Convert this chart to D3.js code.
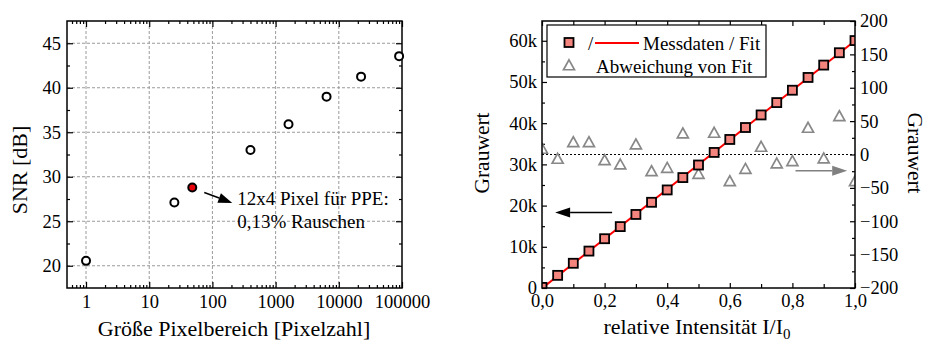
<!DOCTYPE html>
<html>
<head>
<meta charset="utf-8">
<script src="https://cdn.jsdelivr.net/npm/d3@7"></script>
<style>
  html, body { margin: 0; padding: 0; background: #fff; }
  svg { display: block; font-family: "Liberation Serif", "Times New Roman", serif; }
</style>
</head>
<body>
<svg id="chart" width="929" height="341"></svg>
<script>
// ---- Panel 1: SNR as a function of pixel region size ----
const pixelCounts = [1, 25, 48, 400, 1600, 6400, 22500, 90000];
const snrValues = [20.55, 27.1, 28.8, 33.0, 35.9, 39.0, 41.25, 43.55];
const highlightIndex = 2; // 12x4 pixel region used for PPE
const snrTicks = [20, 25, 30, 35, 40, 45];
const snrMinorTicks = [22.5, 27.5, 32.5, 37.5, 42.5];
const pixelTicks = [1, 10, 100, 1000, 10000, 100000];
const annotationLines = ["12x4 Pixel für PPE:", "0,13% Rauschen"];

// ---- Panel 2: gray value vs. relative intensity ----
const intensity = [0, 0.05, 0.1, 0.15, 0.2, 0.25, 0.3, 0.35, 0.4, 0.45, 0.5,
                   0.55, 0.6, 0.65, 0.7, 0.75, 0.8, 0.85, 0.9, 0.95, 1.0];
const grayValues = [150, 3070, 6000, 8960, 11960, 14900, 17850, 20800, 23800, 26800, 29850,
                    32900, 36050, 38950, 42000, 45000, 48000, 51100, 54100, 57100, 60050];
const deviation = [7.5, -7.5, 17.4, 17.4, -9.6, -16, 14, -26, -21, 30.5, -30,
                   31.5, -41, -22.5, 10.5, -14.5, -11, 39, -7, 56.4, -41];
const grayTicks = [0, 10000, 20000, 30000, 40000, 50000, 60000];
const grayTickLabels = ["0", "10k", "20k", "30k", "40k", "50k", "60k"];
const grayMinorTicks = [5000, 15000, 25000, 35000, 45000, 55000];
const deviationTicks = [-200, -150, -100, -50, 0, 50, 100, 150, 200];
const deviationMinorTicks = [-175, -125, -75, -25, 25, 75, 125, 175];
const intensityTicks = [0, 0.2, 0.4, 0.6, 0.8, 1.0];
const intensityTickLabels = ["0,0", "0,2", "0,4", "0,6", "0,8", "1,0"];
const intensityMinorTicks = [0.1, 0.3, 0.5, 0.7, 0.9];
const legendLabels = ["Messdaten / Fit", "Abweichung von Fit"];

const svg = d3.select("#chart");
svg.append("rect").attr("width", 929).attr("height", 341).attr("fill", "#fff");

const TICK_FONT = 18.5;
const TITLE_FONT = 22;

function styleAxis(g, labels) {
  g.select(".domain").remove();
  g.selectAll(".tick line").attr("stroke", "#000").attr("stroke-width", 1.2);
  g.attr("font-family", null).attr("font-size", TICK_FONT);
  g.selectAll(".tick text").attr("fill", "#000");
  if (!labels) g.selectAll(".tick text").remove();
  return g;
}

// ================= Panel 1 =================
const p1 = { left: 67, right: 402, top: 21, bottom: 288 };
const x1 = d3.scaleLog().domain([0.5, 100000]).range([p1.left, p1.right]);
const y1 = d3.scaleLinear().domain([17.5, 47.5]).range([p1.bottom, p1.top]);

const g1 = svg.append("g");

// dashed grid
g1.append("g").selectAll("line").data(snrTicks).join("line")
  .attr("x1", p1.left).attr("x2", p1.right)
  .attr("y1", d => y1(d)).attr("y2", d => y1(d))
  .attr("stroke", "#9a9a9a").attr("stroke-width", 1).attr("stroke-dasharray", "3,2");
g1.append("g").selectAll("line").data(pixelTicks.filter(d => d < 100000)).join("line")
  .attr("x1", d => x1(d)).attr("x2", d => x1(d))
  .attr("y1", p1.top).attr("y2", p1.bottom)
  .attr("stroke", "#9a9a9a").attr("stroke-width", 1).attr("stroke-dasharray", "3,2");

// log minor ticks
const logMinor = x1.ticks().filter(d => !pixelTicks.includes(d) && d > 0.5 && d < 100000);

// bottom axis
g1.append("g").attr("transform", `translate(0,${p1.bottom})`)
  .call(d3.axisBottom(x1).tickValues(pixelTicks).tickFormat(d3.format("d")).tickSize(-6).tickPadding(7))
  .call(g => styleAxis(g, true));
g1.append("g").attr("transform", `translate(0,${p1.bottom})`)
  .call(d3.axisBottom(x1).tickValues(logMinor).tickFormat("").tickSize(-3))
  .call(g => styleAxis(g, false));
// top mirror
g1.append("g").attr("transform", `translate(0,${p1.top})`)
  .call(d3.axisTop(x1).tickValues(pixelTicks).tickSize(-6))
  .call(g => styleAxis(g, false));
g1.append("g").attr("transform", `translate(0,${p1.top})`)
  .call(d3.axisTop(x1).tickValues(logMinor).tickSize(-3))
  .call(g => styleAxis(g, false));
// left axis
g1.append("g").attr("transform", `translate(${p1.left},0)`)
  .call(d3.axisLeft(y1).tickValues(snrTicks).tickSize(-6).tickPadding(6))
  .call(g => styleAxis(g, true));
g1.append("g").attr("transform", `translate(${p1.left},0)`)
  .call(d3.axisLeft(y1).tickValues(snrMinorTicks).tickSize(-3))
  .call(g => styleAxis(g, false));
// right mirror
g1.append("g").attr("transform", `translate(${p1.right},0)`)
  .call(d3.axisRight(y1).tickValues(snrTicks).tickSize(-6))
  .call(g => styleAxis(g, false));
g1.append("g").attr("transform", `translate(${p1.right},0)`)
  .call(d3.axisRight(y1).tickValues(snrMinorTicks).tickSize(-3))
  .call(g => styleAxis(g, false));

// frame
g1.append("rect")
  .attr("x", p1.left).attr("y", p1.top)
  .attr("width", p1.right - p1.left).attr("height", p1.bottom - p1.top)
  .attr("fill", "none").attr("stroke", "#000").attr("stroke-width", 1.5);

// data points
g1.append("g").selectAll("circle").data(pixelCounts).join("circle")
  .attr("cx", d => x1(d))
  .attr("cy", (d, i) => y1(snrValues[i]))
  .attr("r", 4)
  .attr("fill", (d, i) => i === highlightIndex ? "#e8000b" : "#fff")
  .attr("stroke", "#000").attr("stroke-width", 2);

// annotation arrow + text, anchored at the highlighted point
const hx = x1(pixelCounts[highlightIndex]);
const hy = y1(snrValues[highlightIndex]);
function arrow(g, xa, ya, xb, yb, color, headLen, headHalf, width) {
  const ang = Math.atan2(yb - ya, xb - xa);
  const bx = xb - headLen * Math.cos(ang), by = yb - headLen * Math.sin(ang);
  g.append("line").attr("x1", xa).attr("y1", ya).attr("x2", bx).attr("y2", by)
    .attr("stroke", color).attr("stroke-width", width);
  const nx = -Math.sin(ang), ny = Math.cos(ang);
  g.append("path")
    .attr("d", `M${xb},${yb}L${bx + nx * headHalf},${by + ny * headHalf}L${bx - nx * headHalf},${by - ny * headHalf}Z`)
    .attr("fill", color);
}
arrow(g1, hx + 12, hy + 5, hx + 40, hy + 15.5, "#000", 14, 5, 1.5);
g1.append("g").selectAll("text").data(annotationLines).join("text")
  .attr("x", hx + 45)
  .attr("y", (d, i) => hy + 17.5 + i * 23.5)
  .attr("font-size", 19)
  .text(d => d);

// axis titles
g1.append("text")
  .attr("transform", `translate(27,170) rotate(-90)`)
  .attr("text-anchor", "middle").attr("font-size", TITLE_FONT)
  .text("SNR [dB]");
g1.append("text")
  .attr("x", 234).attr("y", 336)
  .attr("text-anchor", "middle").attr("font-size", TITLE_FONT)
  .text("Größe Pixelbereich [Pixelzahl]");

// ================= Panel 2 =================
const p2 = { left: 542, right: 855, top: 21, bottom: 288 };
const x2 = d3.scaleLinear().domain([0, 1]).range([p2.left, p2.right]);
const y2 = d3.scaleLinear().domain([0, 64800]).range([p2.bottom, p2.top]);
const y2r = d3.scaleLinear().domain([-200, 200]).range([p2.bottom, p2.top]);

const g2 = svg.append("g");
const clip = svg.append("defs").append("clipPath").attr("id", "plot2clip");
clip.append("rect")
  .attr("x", p2.left).attr("y", p2.top)
  .attr("width", p2.right - p2.left).attr("height", p2.bottom - p2.top);

// bottom axis
g2.append("g").attr("transform", `translate(0,${p2.bottom})`)
  .call(d3.axisBottom(x2).tickValues(intensityTicks)
    .tickFormat((d, i) => intensityTickLabels[i]).tickSize(-5).tickPadding(6))
  .call(g => styleAxis(g, true));
g2.append("g").attr("transform", `translate(0,${p2.bottom})`)
  .call(d3.axisBottom(x2).tickValues(intensityMinorTicks).tickSize(-4))
  .call(g => styleAxis(g, false));
// top mirror
g2.append("g").attr("transform", `translate(0,${p2.top})`)
  .call(d3.axisTop(x2).tickValues(intensityTicks).tickSize(-5))
  .call(g => styleAxis(g, false));
g2.append("g").attr("transform", `translate(0,${p2.top})`)
  .call(d3.axisTop(x2).tickValues(intensityMinorTicks).tickSize(-4))
  .call(g => styleAxis(g, false));
// left axis (gray value)
g2.append("g").attr("transform", `translate(${p2.left},0)`)
  .call(d3.axisLeft(y2).tickValues(grayTicks)
    .tickFormat((d, i) => grayTickLabels[i]).tickSize(-5).tickPadding(5))
  .call(g => styleAxis(g, true));
g2.append("g").attr("transform", `translate(${p2.left},0)`)
  .call(d3.axisLeft(y2).tickValues(grayMinorTicks).tickSize(-3))
  .call(g => styleAxis(g, false));
// right axis (deviation)
g2.append("g").attr("transform", `translate(${p2.right},0)`)
  .call(d3.axisRight(y2r).tickValues(deviationTicks).tickSize(-5).tickPadding(5))
  .call(g => styleAxis(g, true));
g2.append("g").attr("transform", `translate(${p2.right},0)`)
  .call(d3.axisRight(y2r).tickValues(deviationMinorTicks).tickSize(-3))
  .call(g => styleAxis(g, false));

// zero line of the deviation axis
g2.append("line")
  .attr("x1", p2.left).attr("x2", p2.right)
  .attr("y1", y2r(0)).attr("y2", y2r(0))
  .attr("stroke", "#000").attr("stroke-width", 1).attr("stroke-dasharray", "2,2");

const plot2 = g2.append("g").attr("clip-path", "url(#plot2clip)");

// linear least-squares fit of the measured gray values
const mx = d3.mean(intensity), my = d3.mean(grayValues);
const slope = d3.sum(intensity, (d, i) => (d - mx) * (grayValues[i] - my)) /
              d3.sum(intensity, d => (d - mx) * (d - mx));
const intercept = my - slope * mx;

// deviation triangles
function triPath(cx, cy, s) {
  const h = s * 0.9;
  return `M${cx},${cy - h * 0.62}L${cx + s / 2},${cy + h * 0.38}L${cx - s / 2},${cy + h * 0.38}Z`;
}
plot2.append("g").selectAll("path").data(intensity).join("path")
  .attr("d", (d, i) => triPath(x2(d), y2r(deviation[i]), 11))
  .attr("fill", "none").attr("stroke", "#888").attr("stroke-width", 1.7)
  .attr("stroke-linejoin", "miter");

// fit line
plot2.append("line")
  .attr("x1", x2(0)).attr("y1", y2(intercept))
  .attr("x2", x2(1)).attr("y2", y2(intercept + slope))
  .attr("stroke", "#ff0000").attr("stroke-width", 2);

// measured squares
plot2.append("g").selectAll("rect").data(intensity).join("rect")
  .attr("x", d => x2(d) - 4.5)
  .attr("y", (d, i) => y2(grayValues[i]) - 4.5)
  .attr("width", 9).attr("height", 9)
  .attr("fill", "#f4847e").attr("stroke", "#000").attr("stroke-width", 1.8);

// direction arrows for the two axes
arrow(g2, x2(0.224), y2(18300), x2(0.042), y2(18300), "#000", 15, 5, 1.5);
arrow(g2, x2(0.81), y2r(-24.5), x2(0.975), y2r(-24.5), "#808080", 15, 5, 1.5);

// frame
g2.append("rect")
  .attr("x", p2.left).attr("y", p2.top)
  .attr("width", p2.right - p2.left).attr("height", p2.bottom - p2.top)
  .attr("fill", "none").attr("stroke", "#000").attr("stroke-width", 1.5);

// legend
const lg = g2.append("g");
lg.append("rect").attr("x", 547).attr("y", 25).attr("width", 219).attr("height", 52)
  .attr("fill", "#fff").attr("stroke", "#000").attr("stroke-width", 1.2);
lg.append("rect").attr("x", 569 - 4.5).attr("y", 42.5 - 4.5).attr("width", 9).attr("height", 9)
  .attr("fill", "#f4847e").attr("stroke", "#000").attr("stroke-width", 1.8);
lg.append("text").attr("x", 588).attr("y", 49.5).attr("font-size", 19).text("/");
lg.append("line").attr("x1", 595).attr("x2", 639).attr("y1", 43).attr("y2", 43)
  .attr("stroke", "#ff0000").attr("stroke-width", 2);
lg.append("text").attr("x", 643).attr("y", 49.5).attr("font-size", 19).text(legendLabels[0]);
lg.append("path").attr("d", triPath(569, 66, 11))
  .attr("fill", "none").attr("stroke", "#888").attr("stroke-width", 1.7);
lg.append("text").attr("x", 596).attr("y", 72.5).attr("font-size", 19).text(legendLabels[1]);

// axis titles
g2.append("text")
  .attr("transform", `translate(489,153) rotate(-90)`)
  .attr("text-anchor", "middle").attr("font-size", 21.5)
  .text("Grauwert");
g2.append("text")
  .attr("transform", `translate(908,153) rotate(90)`)
  .attr("text-anchor", "middle").attr("font-size", 21.5)
  .text("Grauwert");
const xt = g2.append("text")
  .attr("x", 697).attr("y", 334)
  .attr("text-anchor", "middle").attr("font-size", TITLE_FONT);
xt.append("tspan").text("relative Intensität I/I");
xt.append("tspan").attr("font-size", 15).attr("dy", 5).text("0");
</script>
</body>
</html>
